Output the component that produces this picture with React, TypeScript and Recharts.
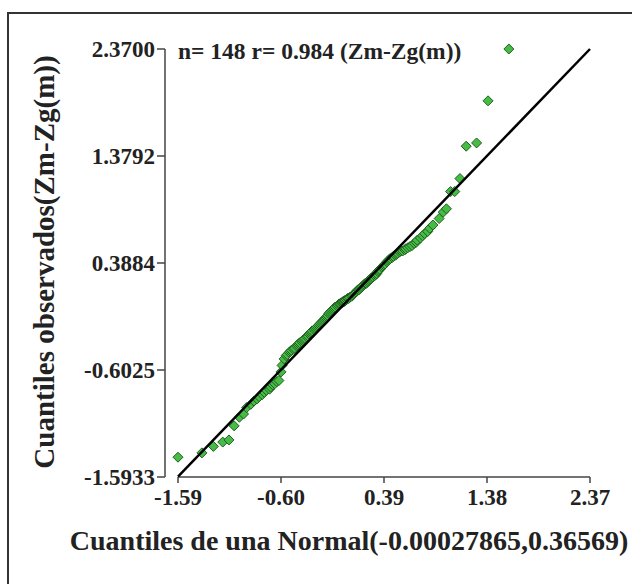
import React from "react";
import { ScatterChart, Scatter, XAxis, YAxis, ReferenceLine } from "recharts";

const normalQuantiles = [
  -1.59, -1.36, -1.25, -1.16, -1.1, -1.05, -1.0, -0.96, -0.93, -0.89,
  -0.86, -0.83, -0.81, -0.78, -0.76, -0.74, -0.71, -0.7, -0.68, -0.66,
  -0.64, -0.62, -0.6, -0.59, -0.57, -0.55, -0.54, -0.52, -0.51, -0.5,
  -0.48, -0.47, -0.45, -0.44, -0.43, -0.42, -0.4, -0.39, -0.38, -0.37,
  -0.35, -0.34, -0.33, -0.32, -0.31, -0.3, -0.28, -0.27, -0.26, -0.25,
  -0.24, -0.23, -0.22, -0.21, -0.2, -0.19, -0.18, -0.17, -0.16, -0.15,
  -0.14, -0.13, -0.12, -0.11, -0.1, -0.09, -0.08, -0.06, -0.05, -0.04,
  -0.03, -0.02, -0.01, -0.005,
  0.005, 0.01, 0.02, 0.03, 0.04, 0.05, 0.06, 0.08, 0.09, 0.1,
  0.11, 0.12, 0.13, 0.14, 0.15, 0.16, 0.17, 0.18, 0.19, 0.2,
  0.21, 0.22, 0.23, 0.24, 0.25, 0.26, 0.27, 0.28, 0.3, 0.31,
  0.32, 0.33, 0.34, 0.35, 0.37, 0.38, 0.39, 0.4, 0.42, 0.43,
  0.44, 0.45, 0.47, 0.48, 0.5, 0.51, 0.52, 0.54, 0.55, 0.57,
  0.59, 0.6, 0.62, 0.64, 0.66, 0.68, 0.7, 0.71, 0.74, 0.76,
  0.78, 0.81, 0.83, 0.86, 0.92, 0.96, 0.99, 1.03, 1.07, 1.12,
  1.18, 1.28, 1.39, 1.59,
];

const observedQuantiles = [
  -1.41, -1.37, -1.31, -1.27, -1.25, -1.12, -1.04, -1.01, -0.95, -0.92,
  -0.89, -0.87, -0.85, -0.83, -0.81, -0.79, -0.78, -0.76, -0.74, -0.73,
  -0.71, -0.7, -0.62, -0.56, -0.5, -0.47, -0.46, -0.44, -0.43, -0.42,
  -0.41, -0.4, -0.38, -0.37, -0.36, -0.35, -0.34, -0.33, -0.32, -0.31,
  -0.3, -0.29, -0.27, -0.26, -0.25, -0.24, -0.23, -0.22, -0.21, -0.2,
  -0.19, -0.18, -0.17, -0.16, -0.15, -0.14, -0.13, -0.12, -0.11, -0.1,
  -0.08, -0.07, -0.06, -0.05, -0.04, -0.03, -0.02, -0.01, 0.0, 0.01,
  0.01, 0.02, 0.02, 0.03,
  0.03, 0.04, 0.04, 0.05, 0.06, 0.06, 0.07, 0.08, 0.09, 0.1,
  0.11, 0.12, 0.13, 0.14, 0.14, 0.15, 0.16, 0.17, 0.18, 0.19,
  0.2, 0.2, 0.21, 0.22, 0.23, 0.24, 0.25, 0.26, 0.27, 0.28,
  0.29, 0.31, 0.32, 0.33, 0.35, 0.36, 0.37, 0.38, 0.4, 0.41,
  0.42, 0.43, 0.44, 0.45, 0.46, 0.47, 0.48, 0.49, 0.5, 0.5,
  0.51, 0.52, 0.53, 0.54, 0.55, 0.57, 0.58, 0.6, 0.62, 0.64,
  0.66, 0.68, 0.71, 0.74, 0.8, 0.86, 0.89, 1.05, 1.05, 1.17,
  1.47, 1.5, 1.89, 2.37,
];

const xTicks = [-1.59, -0.6, 0.39, 1.38, 2.37];
const yTicks = [-1.5933, -0.6025, 0.3884, 1.3792, 2.37];
// ends of the y = x reference line
const diagonal = [-1.59, 2.37];

const points = normalQuantiles.map((x, i) => ({ x, y: observedQuantiles[i] }));
const diagonalPoints = diagonal.map((v) => ({ x: v, y: v }));

const FONT = "'Liberation Serif', 'Times New Roman', serif";
const INK = "#222";
const AXIS = "#444";

const tickStyle = { fill: INK, fontSize: 23, fontWeight: 700, fontFamily: FONT };

function Diamond(props: any) {
  const { cx, cy } = props;
  if (cx == null || cy == null) return null;
  const r = 5;
  return (
    <polygon
      points={`${cx},${cy - r} ${cx + r},${cy} ${cx},${cy + r} ${cx - r},${cy}`}
      fill="#46bc46"
      stroke="#1f5f1f"
      strokeWidth={1}
    />
  );
}

const NoMarker = () => <g />;

export default function App() {
  return (
    <div
      style={{
        position: "absolute",
        left: 0,
        top: 0,
        width: 632,
        height: 584,
        overflow: "hidden",
        background: "#fff",
        fontFamily: FONT,
      }}
    >
      <div
        style={{
          position: "absolute",
          left: 7,
          top: 12,
          width: 700,
          height: 700,
          borderLeft: "2px solid #333",
          borderTop: "2px solid #333",
        }}
      />
      <div style={{ position: "absolute", left: 0, top: 0 }}>
        <ScatterChart width={632} height={584} margin={{ top: 49, right: 42, bottom: 0, left: 0 }}>
          <XAxis
            type="number"
            dataKey="x"
            domain={[xTicks[0], xTicks[xTicks.length - 1]]}
            ticks={xTicks}
            tickFormatter={(v: number) => v.toFixed(2)}
            padding={{ left: 13, right: 0 }}
            axisLine={false}
            tickLine={{ stroke: AXIS, strokeWidth: 1.5 }}
            tickSize={6}
            tickMargin={6}
            height={107}
            tick={tickStyle}
            interval={0}
          />
          <YAxis
            type="number"
            dataKey="y"
            domain={[yTicks[0], yTicks[yTicks.length - 1]]}
            ticks={yTicks}
            tickFormatter={(v: number) => v.toFixed(4)}
            axisLine={{ stroke: AXIS, strokeWidth: 1.5 }}
            tickLine={{ stroke: AXIS, strokeWidth: 1.5 }}
            tickSize={8}
            tickMargin={2}
            width={165}
            tick={tickStyle}
            interval={0}
          />
          <ReferenceLine
            segment={[
              { x: xTicks[0], y: yTicks[0] },
              { x: xTicks[xTicks.length - 1], y: yTicks[0] },
            ]}
            stroke={AXIS}
            strokeWidth={1.5}
            ifOverflow="visible"
          />
          <Scatter data={points} shape={Diamond} isAnimationActive={false} />
          <Scatter
            data={diagonalPoints}
            line={{ stroke: "#000", strokeWidth: 2.5 }}
            shape={NoMarker}
            isAnimationActive={false}
          />
        </ScatterChart>
      </div>
      <div
        style={{
          position: "absolute",
          left: 178,
          top: 37,
          fontSize: 23.5,
          fontWeight: 700,
          color: INK,
          whiteSpace: "nowrap",
          lineHeight: "28px",
        }}
      >
        n= 148 r= 0.984 (Zm-Zg(m))
      </div>
      <div
        style={{
          position: "absolute",
          left: 349,
          top: 541,
          transform: "translate(-50%, -50%)",
          fontSize: 28,
          fontWeight: 700,
          color: INK,
          whiteSpace: "nowrap",
        }}
      >
        Cuantiles de una Normal(-0.00027865,0.36569)
      </div>
      <div
        style={{
          position: "absolute",
          left: 44,
          top: 262,
          transform: "translate(-50%, -50%) rotate(-90deg)",
          fontSize: 29,
          fontWeight: 700,
          color: INK,
          whiteSpace: "nowrap",
        }}
      >
        Cuantiles observados(Zm-Zg(m))
      </div>
    </div>
  );
}
